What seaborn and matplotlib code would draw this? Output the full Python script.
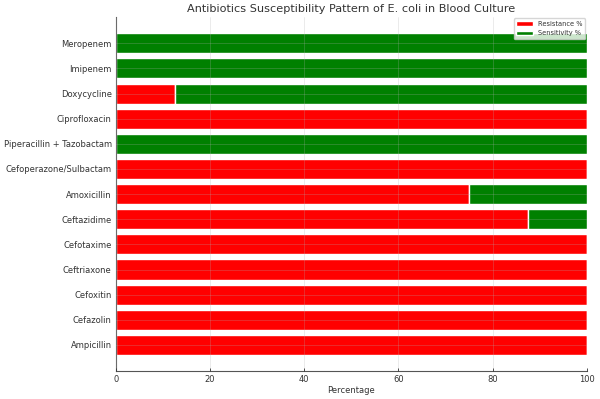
import numpy as np
import pandas as pd
import matplotlib
matplotlib.use('Agg')
import matplotlib.pyplot as plt
import seaborn as sns

antibiotics = ['Ampicillin', 'Cefazolin', 'Cefoxitin', 'Ceftriaxone', 'Cefotaxime',
               'Ceftazidime', 'Amoxicillin', 'Cefoperazone/Sulbactam',
               'Piperacillin + Tazobactam', 'Ciprofloxacin', 'Doxycycline',
               'Imipenem', 'Meropenem']
resistance = [100, 100, 100, 100, 100, 87.5, 75, 100, 0, 100, 12.5, 0, 0]
sensitivity = [100 - r for r in resistance]

sns.set_style('whitegrid', {'axes.edgecolor': '#555555', 'grid.color': '#b0b0b0',
                            'xtick.bottom': True, 'axes.labelcolor': '#333333',
                            'text.color': '#333333', 'xtick.color': '#333333',
                            'ytick.color': '#333333'})
plt.rcParams['font.family'] = ['DejaVu Sans']

fig, ax = plt.subplots(figsize=(6, 3.99), dpi=100)
fig.subplots_adjust(left=0.193, right=0.978, top=0.957, bottom=0.070)

df = pd.DataFrame({'Antibiotic': antibiotics, 'Resistance %': resistance,
                   'Sensitivity %': sensitivity})
y = np.arange(len(antibiotics))
ax.barh(y, df['Resistance %'], height=0.8, color='red', label='Resistance %')
ax.barh(y, df['Sensitivity %'], left=df['Resistance %'], height=0.8, color='green',
        label='Sensitivity %')
ax.set_yticks(y)
ax.set_yticklabels(antibiotics, fontsize=6)
ax.set_xlim(0, 100)
ax.set_xticks([0, 20, 40, 60, 80, 100])
ax.tick_params(axis='x', labelsize=6, length=2.5, width=0.6, direction='in', pad=3)
ax.tick_params(axis='y', length=0, pad=3)
ax.set_xlabel('Percentage', fontsize=6, labelpad=1.5)
ax.set_title('Antibiotics Susceptibility Pattern of E. coli in Blood Culture', fontsize=8.1, pad=4)
ax.grid(True, linewidth=0.5, alpha=0.35)
ax.set_axisbelow(False)
for s in ['top', 'right']:
    ax.spines[s].set_visible(False)
ax.spines['left'].set_linewidth(0.8)
ax.spines['bottom'].set_linewidth(0.8)
ax.legend(loc='upper right', fontsize=4.8, frameon=True, borderaxespad=0.2,
          handlelength=2.5, framealpha=0.8)

fig.savefig('out.png', dpi=100)
